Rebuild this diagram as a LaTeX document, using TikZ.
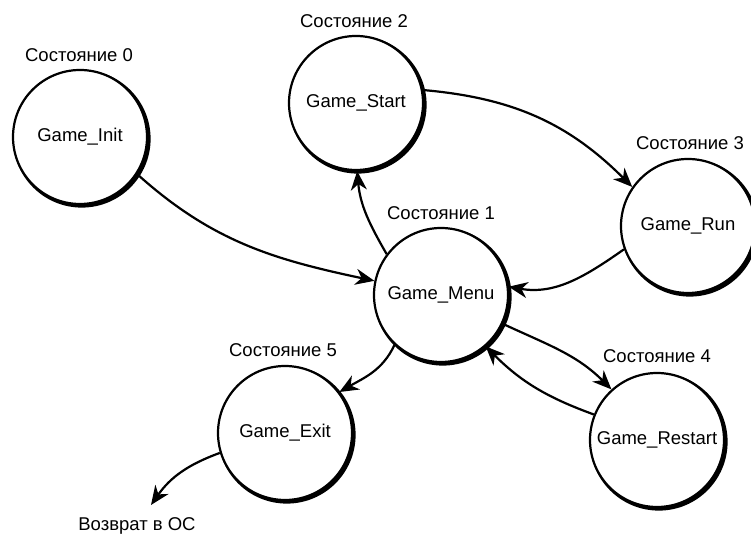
\documentclass[tikz,border=0pt]{standalone}
\usepackage{fontspec}
\setmainfont{Liberation Sans}
\usetikzlibrary{arrows.meta}
\begin{document}
\begin{tikzpicture}[x=1pt,y=1pt,
  state/.style={circle,draw,line width=2.2pt,minimum size=134pt,inner sep=0pt,font=\fontsize{18.5}{20}\selectfont},
  lab/.style={font=\fontsize{18.5}{20}\selectfont,inner sep=0pt},
  conn/.style={line width=2.2pt,-{Stealth[length=19pt,width=16pt,inset=6pt]}}]
\useasboundingbox[fill=white] (0,0) rectangle (751,535);
\node[state] (init) at (80,398) {Game\_Init};
\node[state] (start) at (356,432) {Game\_Start};
\node[state] (run) at (688,309) {Game\_Run};
\node[state] (menu) at (441,240) {Game\_Menu};
\node[state] (exit) at (285,102) {Game\_Exit};
\node[state] (restart) at (657,95) {Game\_Restart};
\foreach \n in {init,start,run,menu,exit,restart}
  \fill[even odd rule] (\n.center) circle (67) ++(1.8,-1.8) circle (68.8);
\node[lab] (l0) at (79,480) {Состояние 0};
\node[lab] (l2) at (354,514) {Состояние 2};
\node[lab] (l3) at (690,392) {Состояние 3};
\node[lab] (l1) at (441,322) {Состояние 1};
\node[lab] (l5) at (283,185) {Состояние 5};
\node[lab] (l4) at (657,179) {Состояние 4};
\node[lab] (os) at (137,9) {Возврат в ОС};
\coordinate (osend) at (151,30);
\draw[conn] (init.-33) to[out=-42,in=168] (menu.168);
\draw[conn] (menu.143) to[out=120,in=-85] (start.-89);
\draw[conn] (start.11) to[out=-5,in=135] (run.145);
\draw[conn] (run.200) to[out=215,in=-10] (menu.7);
\draw[conn] (menu.-25) to[out=-25,in=135] (restart.132);
\draw[conn] (restart.158) to[out=160,in=-45] (menu.-49);
\draw[conn] (menu.-133) to[out=-115,in=30] (exit.37);
\draw[conn] (exit.197) to[out=200,in=55] (osend);
\end{tikzpicture}
\end{document}
